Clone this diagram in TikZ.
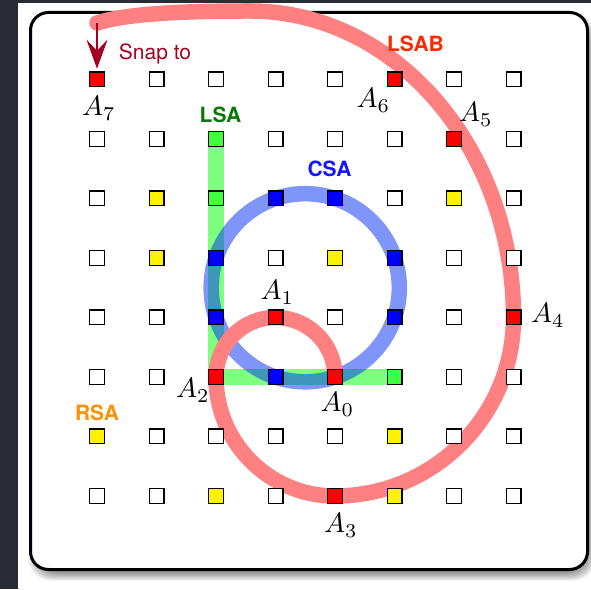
\documentclass[tikz,border=0pt]{standalone}
\usepackage{fontspec}
\setsansfont{TeX Gyre Heros}
\usetikzlibrary{arrows.meta}
\definecolor{darkbg}{RGB}{40,44,52}
\definecolor{snapred}{RGB}{165,0,33}
\definecolor{lsabred}{RGB}{255,40,0}
\definecolor{lsagreen}{RGB}{10,120,10}
\definecolor{csablue}{RGB}{20,20,255}
\definecolor{rsaorange}{RGB}{255,145,0}
\definecolor{bandred}{RGB}{255,128,128}
\definecolor{bandblue}{RGB}{0,45,245}
\definecolor{bandgreen}{RGB}{0,255,0}
\colorlet{cw}{white}
\colorlet{cr}{red}
\colorlet{cb}{blue}
\definecolor{cg}{RGB}{64,255,64}
\colorlet{cy}{yellow}
\tikzset{
  sq/.style={draw=black, line width=1.4pt, minimum size=14.6pt, inner sep=0pt, outer sep=0pt},
  redband/.style={draw=bandred, line width=15.5pt, line cap=round},
  blueband/.style={draw=bandblue, line width=15.5pt, opacity=0.5},
  greenband/.style={draw=bandgreen, line width=15.5pt, opacity=0.5, line join=miter},
  sanslab/.style={font=\sffamily\bfseries, scale=2.1, anchor=base, inner sep=0pt},
  mathlab/.style={scale=2.8, anchor=base, inner sep=0pt},
  snaparrow/.style={draw=snapred, line width=2.5pt, -{Stealth[length=29pt,width=21pt,inset=11pt]}},
  frame/.style={draw=black, fill=white, line width=3pt, rounded corners=18pt}
}
\begin{document}
\begin{tikzpicture}[x=1pt,y=1pt]
\useasboundingbox (0,0) rectangle (591,589);
% background
\fill[white] (0,0) rectangle (591,589);
\fill[darkbg] (0,0) rectangle (18,589);
\fill[darkbg] (0,586) rectangle (591,589);
% shadow
\foreach \k in {0,...,8}{
  \fill[black,opacity=0.055,rounded corners=22pt] ({30.5+3-5+\k},{19.5-6-5+\k}) rectangle ({587.5+3+5-\k},{576.5-6+5-\k});
}
% frame
\draw[frame] (30.5,19.5) rectangle (587.5,576.5);
% grid positions
\foreach \j in {0,...,7}{
  \foreach \ii in {0,...,7}{
    \coordinate (p\ii\j) at ({97+59.5*\ii},{509.5-59.5*\j});
  }
}
% LSA band
\draw[greenband] (p21) -- (p25) -- (p55);
% CSA ring
\coordinate (ccenter) at (305.25,301.25);
\draw[blueband] (ccenter) circle[radius=94.08pt];
% LSAB spiral
\coordinate (toppt) at (250,578);
\coordinate (snapstart) at (97,566);
\draw[redband] (p45) arc[start angle=0,end angle=180,radius=59.5pt]
  arc[start angle=180,end angle=270,radius=119pt]
  arc[start angle=270,end angle=360,radius=178.5pt]
  .. controls +(0,170) and +(145,0) .. (toppt)
  .. controls +(-70,0) and (125,575) .. (snapstart);
% squares
\foreach \j/\row in {0/{r,w,w,w,w,r,w,w},1/{w,w,g,w,w,w,r,w},2/{w,y,g,b,b,w,y,w},3/{w,y,b,w,y,b,w,w},4/{w,w,b,r,w,b,w,r},5/{w,w,r,b,r,g,w,w},6/{y,w,w,w,w,y,w,w},7/{w,w,y,w,r,y,w,w}}{
  \foreach \c [count=\ii from 0] in \row {
    \node[sq, fill=c\c] (q\ii\j) at (p\ii\j) {};
  }
}
% arrow
\draw[snaparrow, shorten >=3.5pt] (snapstart) -- (q00.north);
% labels
\node[font=\sffamily, scale=2.1, anchor=base, inner sep=0pt, text=snapred] (snap) at (155,529) {Snap to};
\node[sanslab, text=lsabred] (lsab) at (415.5,537) {LSAB};
\node[sanslab, text=lsagreen] (lsa) at (220.5,466) {LSA};
\node[sanslab, text=csablue] (csa) at (329.5,412) {CSA};
\node[sanslab, text=rsaorange] (rsa) at (97,168) {RSA};
\node[mathlab] (a7) at (99,473) {$A_7$};
\node[mathlab] (a6) at (373.5,481) {$A_6$};
\node[mathlab] (a5) at (476,467) {$A_5$};
\node[mathlab] (a4) at (548,266) {$A_4$};
\node[mathlab] (a1) at (277.5,289) {$A_1$};
\node[mathlab] (a2) at (193,191) {$A_2$};
\node[mathlab] (a0) at (337.5,177) {$A_0$};
\node[mathlab] (a3) at (341,56) {$A_3$};
\end{tikzpicture}
\end{document}
